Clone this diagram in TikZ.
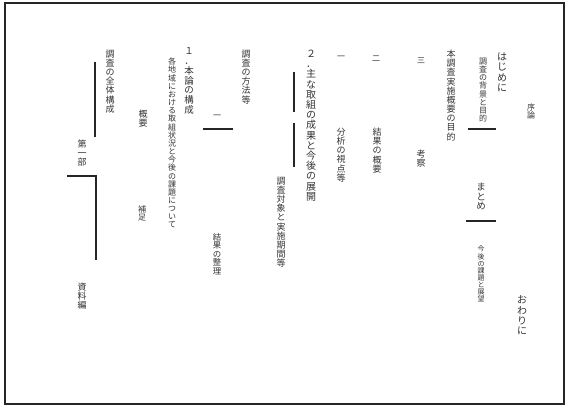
\documentclass[tikz,border=0pt]{standalone}
\usepackage{fontspec}
\newfontfamily\jp{Noto Sans CJK JP}
\makeatletter
\newcommand\vstack[1]{\vbox{\baselineskip=1.02em\lineskiplimit=-\maxdimen\@tfor\vs@c:=#1\do{\hbox to 1em{\hss\vs@c\hss}}}}
\makeatother
\tikzset{
  vt/.style={anchor=north, inner sep=0pt, outer sep=0pt, text=black!80},
  bar/.style={line width=1.2pt, black!85},
}
\newcommand{\fs}[1]{\fontsize{#1}{#1}\jp}
\begin{document}
\begin{tikzpicture}[x=1pt,y=-1pt]
\useasboundingbox (0,0) rectangle (569,407);
\draw[line width=1.6pt, black!85] (5,3) rectangle (564,404);
% text columns
\node[vt, font=\fs{9}]   (a) at (110,50)  {\vstack{調査の全体構成}};
\node[vt, font=\fs{9}]   (b) at (143,110) {\vstack{概要}};
\node[vt, font=\fs{9}]   (c) at (82,140)  {\vstack{第一部}};
\node[vt, font=\fs{8}]   (d) at (172,58)  {\vstack{各地域における取組状況と今後の課題について}};
\node[vt, font=\fs{9.5}] (e) at (189,48)  {\vstack{１．本論の構成}};
\node[vt, font=\fs{8}]   (f) at (217,115) {\vstack{一}};
\node[vt, font=\fs{8.4}] (g) at (217,233) {\vstack{結果の整理}};
\node[vt, font=\fs{9}]   (h) at (246,50)  {\vstack{調査の方法等}};
\node[vt, font=\fs{10}]  (i) at (311,50)  {\vstack{２．主な取組の成果と今後の展開}};
\node[vt, font=\fs{9}]   (j) at (281,177) {\vstack{調査対象と実施期間等}};
\node[vt, font=\fs{8}]   (k) at (142,206) {\vstack{補足}};
\node[vt, font=\fs{9}]   (l) at (82,283)  {\vstack{資料編}};
\node[vt, font=\fs{8}]   (m1) at (341,56) {\vstack{一}};
\node[vt, font=\fs{8}]   (m2) at (376,56) {\vstack{二}};
\node[vt, font=\fs{9}]   (n) at (341,128) {\vstack{分析の視点等}};
\node[vt, font=\fs{9}]   (o) at (377,128) {\vstack{結果の概要}};
\node[vt, font=\fs{8}]   (p1) at (421,58) {\vstack{三}};
\node[vt, font=\fs{9}]   (p2) at (421,150) {\vstack{考察}};
\node[vt, font=\fs{9}]   (q) at (451,50)  {\vstack{本調査実施概要の目的}};
\node[vt, font=\fs{8}]   (r) at (483,58)  {\vstack{調査の背景と目的}};
\node[vt, font=\fs{10}]  (s) at (502,53)  {\vstack{はじめに}};
\node[vt, font=\fs{8}]   (t) at (531,104) {\vstack{序論}};
\node[vt, font=\fs{9.5}] (u) at (481,183) {\vstack{まとめ}};
\node[vt, font=\fs{7}]   (v) at (481,246) {\vstack{今後の課題と展望}};
\node[vt, font=\fs{10}]  (w) at (522,296) {\vstack{おわりに}};
% bars
\coordinate (p1a) at (95,62);  \coordinate (p1b) at (95,137);
\coordinate (p2a) at (67,176); \coordinate (p2b) at (96,176); \coordinate (p2c) at (96,260);
\coordinate (p3a) at (203,129); \coordinate (p3b) at (233,129);
\coordinate (p4a) at (294,72); \coordinate (p4b) at (294,112);
\coordinate (p5a) at (294,123); \coordinate (p5b) at (294,167);
\coordinate (p6a) at (468,129); \coordinate (p6b) at (496,129);
\coordinate (p7a) at (466,221); \coordinate (p7b) at (496,221);
\draw[bar] (p1a) -- (p1b);
\draw[bar] (p2a) -- (p2b) -- (p2c);
\draw[bar] (p3a) -- (p3b);
\draw[bar] (p4a) -- (p4b);
\draw[bar] (p5a) -- (p5b);
\draw[bar] (p6a) -- (p6b);
\draw[bar] (p7a) -- (p7b);
\end{tikzpicture}
\end{document}
